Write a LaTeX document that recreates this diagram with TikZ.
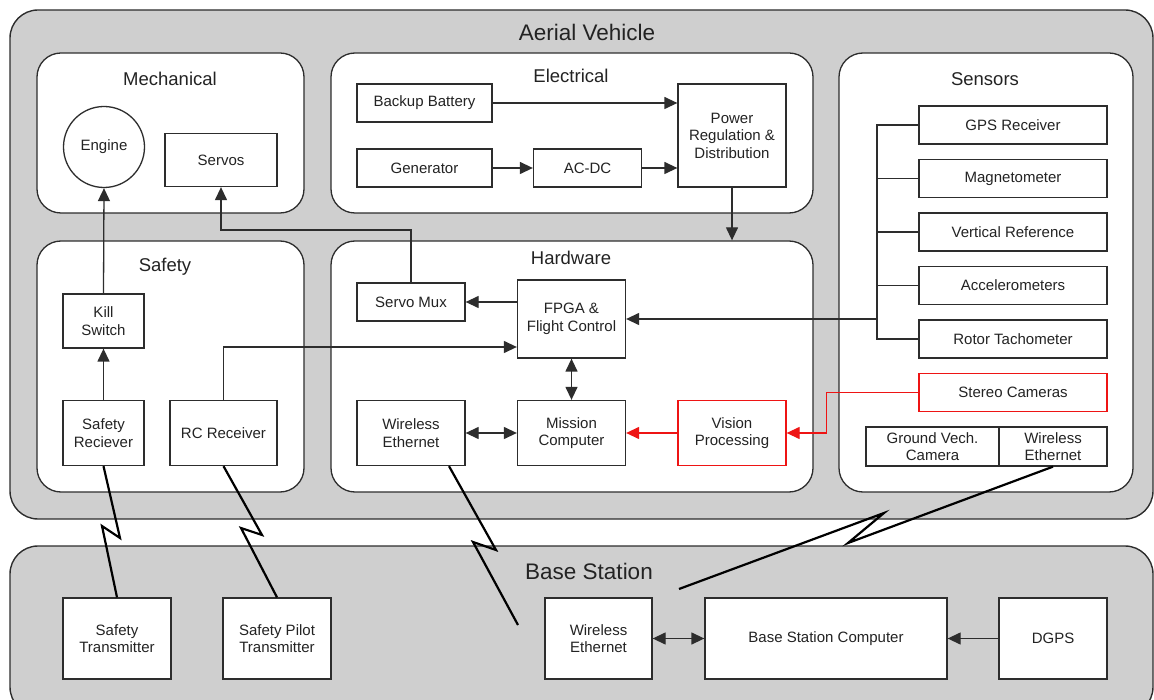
\documentclass[tikz,border=0pt]{standalone}
\usepackage{fontspec}
\setmainfont{Liberation Sans}
\usetikzlibrary{arrows.meta,calc}
\definecolor{bggray}{RGB}{207,207,207}
\definecolor{ln}{RGB}{45,45,45}
\definecolor{txt}{RGB}{35,35,35}
\definecolor{vred}{RGB}{238,20,20}
\newcommand\boxfnt{\fontsize{15}{17.5}\selectfont}
\newcommand\grpfnt{\fontsize{18.5}{21}\selectfont}
\newcommand\titfnt{\fontsize{22.5}{26}\selectfont}
\begin{document}
\begin{tikzpicture}[x=1pt,y=-1pt,
  every node/.style={text=txt},
  outerbox/.style={draw=ln, line width=1.4pt, fill=bggray, rounded corners=28pt, inner sep=0},
  grp/.style={draw=ln, line width=1.3pt, fill=white, rounded corners=24pt, inner sep=0},
  blk/.style={draw=ln, line width=1.3pt, fill=white, inner sep=0, align=center, font=\boxfnt},
  redblk/.style={blk, draw=vred},
  grptitle/.style={font=\grpfnt, inner sep=0},
  bigtitle/.style={font=\titfnt, inner sep=0},
  arr/.style={draw=ln, line width=1.3pt, -{Triangle[length=13pt,width=12pt]}},
  darr/.style={draw=ln, line width=1.3pt, {Triangle[length=13pt,width=12pt]}-{Triangle[length=13pt,width=12pt]}},
  redarr/.style={draw=vred, line width=1.3pt, -{Triangle[length=13pt,width=12pt]}},
  wire/.style={draw=ln, line width=1.3pt},
  bolt/.style={draw=black, line width=2.2pt, line join=miter}
]
\useasboundingbox (0,0) rectangle (1154,700);

% outer regions
\node[outerbox, minimum width=1143, minimum height=509] (av) at (581.5,264.5) {};
\node[outerbox, minimum width=1143, minimum height=169] (bs) at (581.5,630.5) {};
\node[bigtitle] (avT) at (587,32) {Aerial Vehicle};
\node[bigtitle] (bsT) at (589,571) {Base Station};

% groups
\node[grp, minimum width=267, minimum height=160] (mech) at (170.5,133) {};
\node[grp, minimum width=482, minimum height=160] (elec) at (572,133) {};
\node[grp, minimum width=294, minimum height=439] (sens) at (986,272.5) {};
\node[grp, minimum width=267, minimum height=251] (safe) at (170.5,366.5) {};
\node[grp, minimum width=482, minimum height=251] (hw) at (572,366.5) {};

\node[grptitle] (mechT) at (170,79) {Mechanical};
\node[grptitle] (elecT) at (571,76) {Electrical};
\node[grptitle] (sensT) at (985,79) {Sensors};
\node[grptitle] (safeT) at (165,267) {Safety};
\node[grptitle] (hwT) at (571,258) {Hardware};

% blocks
\node[blk, circle, minimum size=81] (engine) at (104,147) {Engine};
\node[blk, minimum width=112, minimum height=53] (servos) at (221,160) {Servos};

\node[blk, minimum width=135, minimum height=38] (backup) at (424.5,103) {Backup Battery};
\node[blk, minimum width=135, minimum height=38] (gen) at (424.5,168) {Generator};
\node[blk, minimum width=108, minimum height=38] (acdc) at (587.5,168) {AC-DC};
\node[blk, minimum width=108, minimum height=103] (power) at (732,135.5) {Power\\Regulation \&\\Distribution};

\node[blk, minimum width=188, minimum height=38] (gps) at (1013,125) {GPS Receiver};
\node[blk, minimum width=188, minimum height=38] (mag) at (1013,178.5) {Magnetometer};
\node[blk, minimum width=188, minimum height=38] (vref) at (1013,232) {Vertical Reference};
\node[blk, minimum width=188, minimum height=38] (accel) at (1013,285.5) {Accelerometers};
\node[blk, minimum width=188, minimum height=38] (rotor) at (1013,339) {Rotor Tachometer};
\node[redblk, minimum width=188, minimum height=38] (stereo) at (1013,392.5) {Stereo Cameras};
\node[blk, minimum width=133, minimum height=39] (gvc) at (932.5,446.5) {Ground Vech.\\Camera};
\node[blk, minimum width=108, minimum height=39] (swe) at (1053,446.5) {Wireless\\Ethernet};

\node[blk, minimum width=108, minimum height=38] (servomux) at (411,302) {Servo Mux};
\node[blk, minimum width=108, minimum height=78] (fpga) at (571.5,319) {FPGA \&\\Flight Control};
\node[blk, minimum width=108, minimum height=65] (hwwe) at (411,433) {Wireless\\Ethernet};
\node[blk, minimum width=108, minimum height=65] (mission) at (571.5,433) {Mission\\Computer};
\node[redblk, minimum width=108, minimum height=65] (vision) at (732,433) {Vision\\Processing};

\node[blk, minimum width=81, minimum height=54] (killsw) at (103.5,321) {Kill\\Switch};
\node[blk, minimum width=81, minimum height=65] (saferx) at (103.5,433) {Safety\\Reciever};
\node[blk, minimum width=107, minimum height=65] (rcrx) at (223.5,433) {RC Receiver};

\node[blk, minimum width=108, minimum height=81] (safetx) at (117,638.5) {Safety\\Transmitter};
\node[blk, minimum width=108, minimum height=81] (sptx) at (277,638.5) {Safety Pilot\\Transmitter};
\node[blk, minimum width=107, minimum height=81] (bswe) at (598.5,638.5) {Wireless\\Ethernet};
\node[blk, minimum width=242, minimum height=81] (bsc) at (826,638.5) {Base Station Computer};
\node[blk, minimum width=108, minimum height=81] (dgps) at (1053,638.5) {DGPS};

% electrical connectors
\draw[arr] (backup.east) -- (backup.east -| power.west);
\draw[arr] (gen.east) -- (acdc.west);
\draw[arr] (acdc.east) -- (acdc.east -| power.west);
\draw[arr] (power.south) -- (power.south |- hw.north);

% hardware connectors
\draw[arr] (fpga.west |- servomux.east) -- (servomux.east);
\draw[arr] (servomux.north) -- (servomux.north |- 0,230) -| (servos.south);
\draw[arr] (rcrx.north) |- ($(fpga.west)+(0,28)$);
\draw[darr] (fpga.south) -- (mission.north);
\draw[darr] (hwwe.east) -- (mission.west);
\draw[redarr] (vision.west) -- (mission.east);
\draw[redarr] (stereo.west) -| ($(vision.east)+(40,0)$) -- (vision.east);

% safety connectors
\draw[arr] (saferx.north) -- (killsw.south);
\draw[arr] (killsw.north) -- (engine.south);

% sensor bus
\coordinate (bustop) at (877,125);
\coordinate (busout) at (877,319);
\draw[wire] (gps.west) -- (gps.west -| bustop) -- (rotor.west -| bustop) -- (rotor.west);
\draw[wire] (mag.west) -- (mag.west -| bustop);
\draw[wire] (vref.west) -- (vref.west -| bustop);
\draw[wire] (accel.west) -- (accel.west -| bustop);
\draw[arr] (busout) -- (busout -| fpga.east);

% base station connectors
\draw[darr] (bswe.east) -- (bsc.west);
\draw[arr] (dgps.west) -- (bsc.east);

% wireless links
\coordinate (bolt3end) at (518,625);
\coordinate (bolt4end) at (679,589);
\draw[bolt] (saferx.south) -- (120,538) -- (102,526) -- (safetx.north);
\draw[bolt] (rcrx.south) -- (262,535) -- (241,528) -- (sptx.north);
\draw[bolt] ($(hwwe.south)+(38,0)$) -- (496,550) -- (473,542) -- (bolt3end);
\draw[bolt] (swe.south) -- (848,543) -- (884,513) -- (bolt4end);
\end{tikzpicture}
\end{document}
